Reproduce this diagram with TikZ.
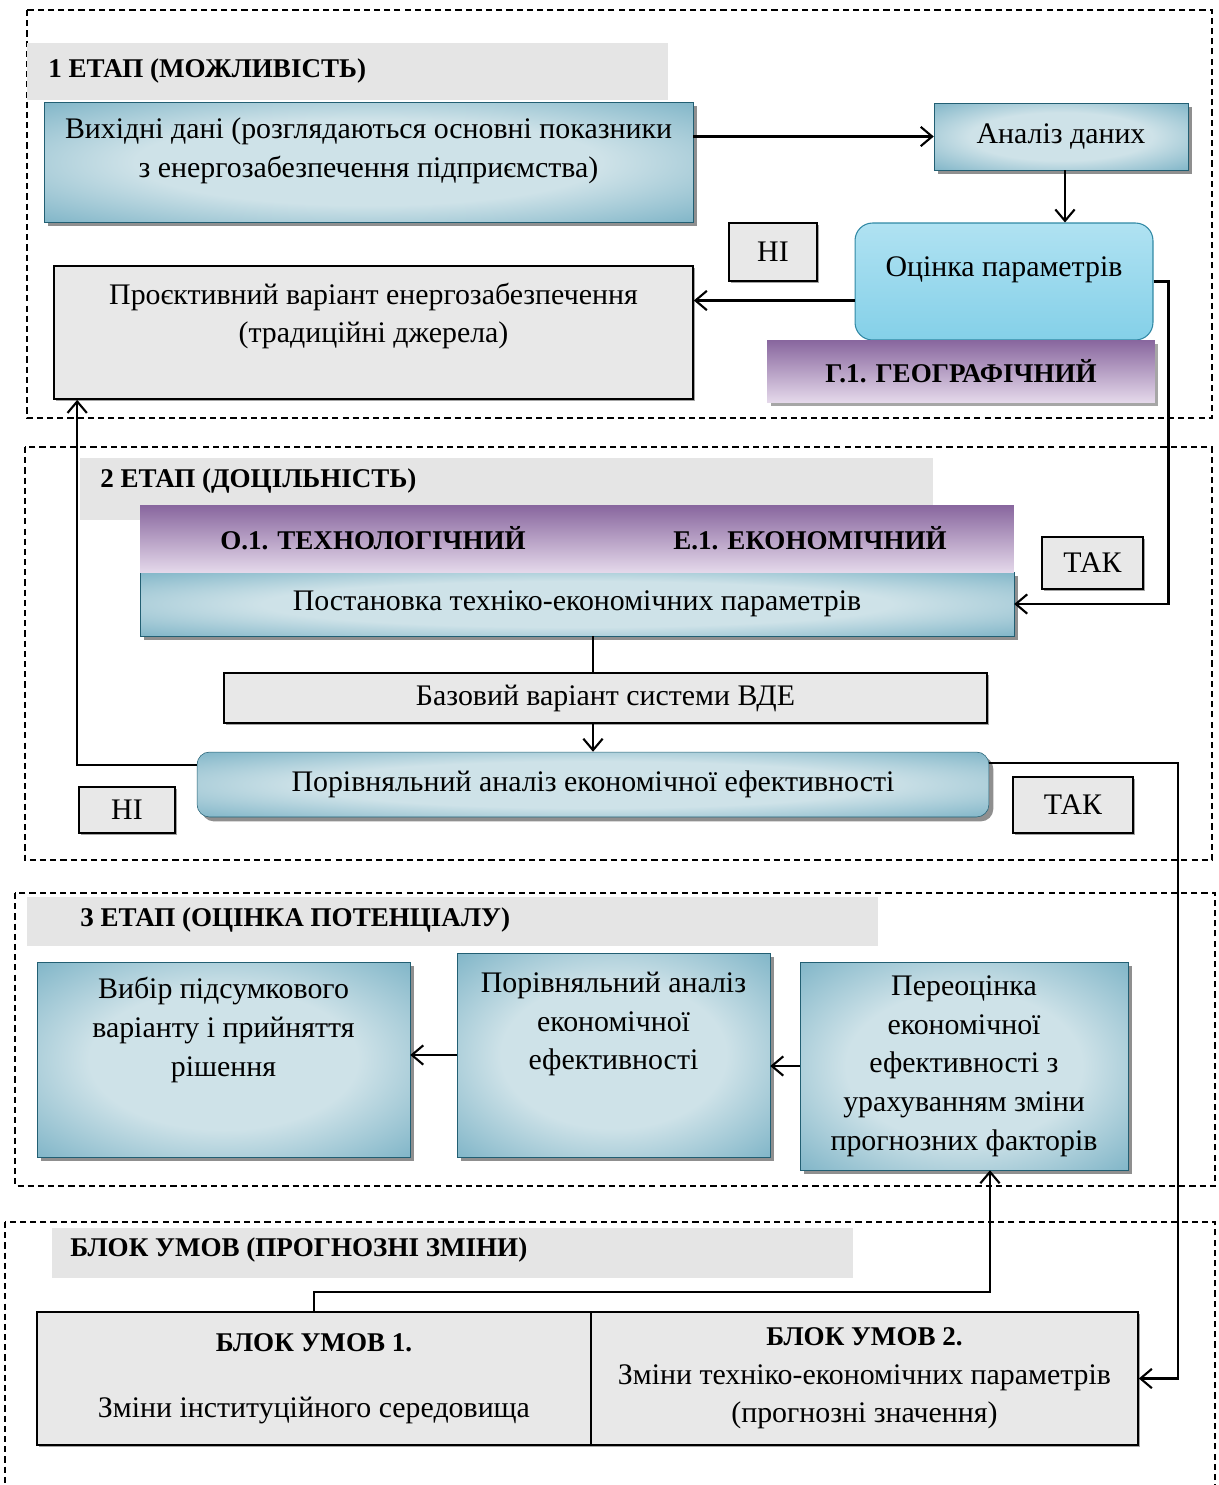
\documentclass[tikz,border=0pt]{standalone}
\usepackage{fontspec}
\setmainfont{Liberation Serif}
\usepackage{tikz}
\usetikzlibrary{arrows.meta,shadows}
\definecolor{tealD}{RGB}{48,136,164}
\definecolor{tealM}{RGB}{100,165,188}
\definecolor{tealL}{RGB}{206,226,232}
\definecolor{purpD}{RGB}{136,102,158}
\definecolor{purpL}{RGB}{228,216,234}
\definecolor{cyanB}{RGB}{132,208,232}
\definecolor{cyanL}{RGB}{176,226,242}
\definecolor{boxgray}{RGB}{232,232,232}
\definecolor{bandgray}{RGB}{229,229,229}
\pgfdeclareradialshading{tealshade}{\pgfpoint{0bp}{0bp}}{color(0bp)=(tealL); color(18bp)=(tealL); color(42bp)=(tealM); color(66bp)=(tealD)}

\begin{document}
\begin{tikzpicture}[x=0.02cm, y=-0.02cm,
	>={Straight Barb[length=6.5pt,width=11pt]},
	every node/.style={font=\fontsize{17}{22}\selectfont},
	frame/.style={line width=0.8pt, dash pattern=on 3.5pt off 2.3pt},
	band/.style={fill=bandgray},
	head/.style={anchor=west, inner sep=0pt, font=\bfseries\fontsize{15.4}{18}\selectfont},
	tealbox/.style={shading=tealshade, draw=tealD!70!black, line width=0.3pt, inner sep=0pt,
		drop shadow={shadow xshift=2.5pt, shadow yshift=-2.5pt, fill=black!55, opacity=0.8}},
	purplebox/.style={top color=purpD, bottom color=purpL, inner sep=0pt, font=\bfseries\fontsize{15.4}{18}\selectfont},
	graybox/.style={fill=boxgray, draw, line width=1pt, inner sep=0pt, align=center,
		drop shadow={shadow xshift=1pt, shadow yshift=-1pt, fill=black!60, opacity=0.6}},
	txt/.style={align=center, inner sep=0pt},
	line/.style={line width=1.2pt}
	]
	\useasboundingbox (0,0) rectangle (1218,1485);
	%Рамки етапів
	\draw [frame] (27,10) rectangle (1212,418);
	\draw [frame] (25,447) rectangle (1212,860);
	\draw [frame] (15,893) rectangle (1215,1186);
	\draw [frame] (5,1222) rectangle (1215,1495);
	\fill [band] (27,43) rectangle (668,100);
	\fill [band] (80,458) rectangle (933,520);
	\fill [band] (27,897) rectangle (878,946);
	\fill [band] (52,1228) rectangle (853,1278);
	\node [head] (h1) at (48,71) {1 ЕТАП (МОЖЛИВІСТЬ)};
	\node [head] (h2) at (100,481) {2 ЕТАП (ДОЦІЛЬНІСТЬ)};
	\node [head] (h3) at (80,920) {3 ЕТАП (ОЦІНКА ПОТЕНЦІАЛУ)};
	\node [head] (h4) at (70,1250) {БЛОК УМОВ (ПРОГНОЗНІ ЗМІНИ)};
	%1 етап
	\node [tealbox, minimum width=12.98cm, minimum height=2.4cm] (vyh) at (368.5,162) {};
	\node [txt] (vyh-t) at (368.5,151) {Вихідні дані (розглядаються основні показники\\з енергозабезпечення підприємства)};
	\node [tealbox, minimum width=5.08cm, minimum height=1.34cm] (anal) at (1061,136.5) {Аналіз даних};
	\node [draw=tealD, line width=0.6pt, top color=cyanL, bottom color=cyanB, rounded corners=0.35cm,
		minimum width=5.96cm, minimum height=2.34cm] (ocin) at (1004,281.5) {};
	\node [txt] (ocin-t) at (1004,270) {Оцінка параметрів};
	\node [purplebox, minimum width=7.76cm, minimum height=1.24cm,
		drop shadow={shadow xshift=2pt, shadow yshift=-2pt, fill=black!50, opacity=0.7}] (geo) at (961,371) {Г.1. ГЕОГРАФІЧНИЙ};
	\node [graybox, minimum width=1.76cm, minimum height=1.16cm] (ni1) at (773,252) {НІ};
	\node [graybox, minimum width=12.78cm, minimum height=2.66cm] (proj) at (373.5,332.5) {};
	\node [txt] (proj-t) at (373.5,316) {Проєктивний варіант енергозабезпечення\\(традиційні джерела)};
	%2 етап
	\node [tealbox, minimum width=17.48cm, minimum height=1.28cm] (post) at (577,604) {Постановка техніко-економічних параметрів};
	\node [purplebox, minimum width=9.32cm, minimum height=1.34cm] (tech) at (373,538.5) {О.1. ТЕХНОЛОГІЧНИЙ};
	\node [purplebox, minimum width=8.16cm, minimum height=1.34cm] (econ) at (810,538.5) {Е.1. ЕКОНОМІЧНИЙ};
	\node [graybox, minimum width=2.02cm, minimum height=1.04cm] (tak1) at (1092.5,563) {ТАК};
	\node [graybox, minimum width=15.26cm, minimum height=1cm] (baz) at (605.5,698) {Базовий варіант системи ВДЕ};
	\node [tealbox, rounded corners=0.25cm, minimum width=15.84cm, minimum height=1.3cm] (porn) at (593,784.5) {Порівняльний аналіз економічної ефективності};
	\node [graybox, minimum width=1.92cm, minimum height=0.92cm] (ni2) at (127,810) {НІ};
	\node [graybox, minimum width=2.4cm, minimum height=1.12cm] (tak2) at (1073,805) {ТАК};
	%3 етап
	\node [tealbox, minimum width=7.46cm, minimum height=3.9cm] (vybir) at (223.5,1059.5) {};
	\node [txt] (vybir-t) at (223.5,1030) {Вибір підсумкового\\варіанту і прийняття\\рішення};
	\node [tealbox, minimum width=6.26cm, minimum height=4.08cm] (por3) at (613.5,1055) {};
	\node [txt] (por3-t) at (613.5,1024) {Порівняльний аналіз\\економічної\\ефективності};
	\node [tealbox, align=center, minimum width=6.56cm, minimum height=4.16cm] (pereo) at (964,1066) {Переоцінка\\економічної\\ефективності з\\урахуванням зміни\\прогнозних факторів};
	%Блок умов
	\node [graybox, minimum width=11.08cm, minimum height=2.66cm] (blk1) at (314,1378.5) {{\bfseries\fontsize{15.4}{18}\selectfont БЛОК УМОВ 1.}\\[0.55cm]Зміни інституційного середовища};
	\node [graybox, minimum width=10.94cm, minimum height=2.66cm] (blk2) at (864.5,1378.5) {{\bfseries\fontsize{15.4}{18}\selectfont БЛОК УМОВ 2.}\\Зміни техніко-економічних параметрів\\(прогнозні значення)};
	%Зв'язки
	\draw [line, ->] (vyh.east |- anal.west) -- (anal.west);
	\draw [line, ->] ([xshift=0.08cm]anal.south) -- ([xshift=0.08cm]anal.south |- ocin.north);
	\draw [line, ->] ([yshift=-0.38cm]ocin.west) -- ([yshift=-0.38cm]ocin.west -| proj.east);
	\draw [line, ->] (ocin.east) -- ++(15,0) |- (post.east);
	\draw [line] (post.south -| porn.north) -- (baz.north -| porn.north);
	\draw [line, ->] (baz.south -| porn.north) -- (porn.north);
	\draw [line, ->] ([yshift=0.39cm]porn.west) -| ([xshift=0.48cm]proj.south west);
	\draw [line, ->] ([yshift=0.43cm]porn.east) -- ++(189,0) |- (blk2.east);
	\draw [line, ->] (blk1.north) -- ++(0,-19) -| ([xshift=0.52cm]pereo.south);
	\draw [line, ->] (por3.west) -- (por3.west -| vybir.east);
	\draw [line, ->] (pereo.west) -- (pereo.west -| por3.east);
\end{tikzpicture}
\end{document}
